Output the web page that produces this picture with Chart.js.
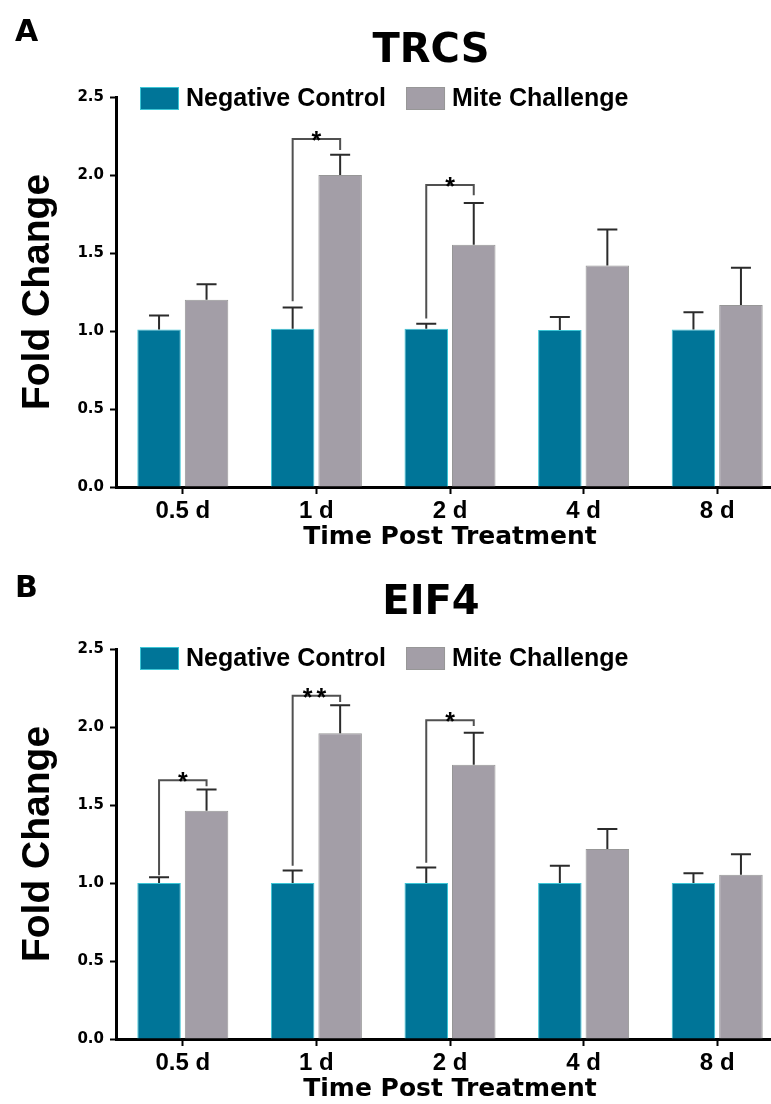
<!DOCTYPE html>
<html>
<head>
<meta charset="utf-8">
<script src="https://cdn.jsdelivr.net/npm/chart.js@4.4.1/dist/chart.umd.min.js"></script>
<style>
  html, body { margin: 0; padding: 0; background: #fff; overflow: hidden; }
  #wrap { width: 771px; height: 1104px; overflow: hidden; }
  canvas { display: block; }
</style>
</head>
<body>
<div id="wrap">
  <canvas id="chartA" width="790" height="552"></canvas>
  <canvas id="chartB" width="790" height="552"></canvas>
</div>
<script>
var timePoints = ['0.5 d', '1 d', '2 d', '4 d', '8 d'];
var yTickLabels = ['0.0', '0.5', '1.0', '1.5', '2.0', '2.5'];
var seriesNames = ['Negative Control', 'Mite Challenge'];

// TRCS
var trcsControl = [1.01, 1.015, 1.015, 1.006, 1.01];
var trcsControlErr = [0.09, 0.135, 0.032, 0.084, 0.11];
var trcsMite = [1.20, 2.00, 1.553, 1.42, 1.167];
var trcsMiteErr = [0.10, 0.13, 0.267, 0.23, 0.238];
// significance brackets: group, label, top, left end, right end
var trcsBrackets = [[1, '*', 2.23, 1.19, 2.16], [2, '*', 1.936, 1.08, 1.87]];

// EIF4
var eifControl = [1.0, 1.0, 1.0, 1.0, 1.0];
var eifControlErr = [0.037, 0.08, 0.10, 0.11, 0.062];
var eifMite = [1.463, 1.96, 1.758, 1.218, 1.053];
var eifMiteErr = [0.137, 0.18, 0.205, 0.128, 0.131];
var eifBrackets = [[0, '*', 1.658, 1.05, 1.62], [1, '**', 2.2, 1.11, 2.16], [2, '*', 2.043, 1.13, 2.006]];

var teal = '#007598';
var tealEdge = '#3cc6d6';
var grey = '#a39ea7';
var greyEdge = '#979797';

Chart.defaults.font.family = '"Liberation Sans", Arial, sans-serif';
Chart.defaults.color = '#000';

var annotate = {
  id: 'annotate',
  afterDraw: function (chart) {
    var o = chart.options.plugins.annotate;
    var ctx = chart.ctx;
    var y = chart.scales.y;
    ctx.save();
    ctx.fillStyle = '#000';
    ctx.textBaseline = 'alphabetic';
    ctx.textAlign = 'left';
    ctx.font = 'bold 30px "DejaVu Sans"';
    ctx.fillText(o.panel, 15, o.panelY);
    ctx.textAlign = 'center';
    ctx.font = 'bold 40px "DejaVu Sans"';
    ctx.fillText(o.title, 431, 62);

    // legend
    ctx.font = 'bold 25px "Liberation Sans"';
    ctx.textAlign = 'left';
    ctx.textBaseline = 'middle';
    var lx = 140;
    chart.data.datasets.forEach(function (ds) {
      ctx.fillStyle = ds.backgroundColor;
      ctx.fillRect(lx, o.legendY, 39, 23);
      ctx.strokeStyle = ds.borderColor;
      ctx.lineWidth = 1;
      ctx.strokeRect(lx + 0.5, o.legendY + 0.5, 38, 22);
      ctx.fillStyle = '#000';
      ctx.fillText(ds.label, lx + 46, o.legendY + 12);
      lx += 46 + ctx.measureText(ds.label).width + 20;
    });

    // error bars
    ctx.strokeStyle = '#2b2b2b';
    ctx.lineWidth = 2;
    chart.data.datasets.forEach(function (ds, di) {
      var meta = chart.getDatasetMeta(di);
      meta.data.forEach(function (bar, i) {
        var top = y.getPixelForValue(ds.data[i] + ds.errors[i]);
        ctx.beginPath();
        ctx.moveTo(bar.x, bar.y);
        ctx.lineTo(bar.x, top);
        ctx.moveTo(bar.x - 10, top);
        ctx.lineTo(bar.x + 10, top);
        ctx.stroke();
      });
    });

    // brackets
    var m0 = chart.getDatasetMeta(0), m1 = chart.getDatasetMeta(1);
    ctx.strokeStyle = '#505050';
    ctx.lineWidth = 2;
    ctx.font = 'bold 25px "Liberation Sans"';
    ctx.textAlign = 'center';
    ctx.textBaseline = 'alphabetic';
    ctx.fillStyle = '#000';
    o.brackets.forEach(function (b) {
      var x1 = m0.data[b[0]].x, x2 = m1.data[b[0]].x;
      var yt = y.getPixelForValue(b[2]);
      ctx.beginPath();
      ctx.moveTo(x1, y.getPixelForValue(b[3]));
      ctx.lineTo(x1, yt);
      ctx.lineTo(x2, yt);
      ctx.lineTo(x2, y.getPixelForValue(b[4]));
      ctx.stroke();
      ctx.letterSpacing = b[1].length > 1 ? '4px' : '0px';
      ctx.fillText(b[1], (x1 + x2) / 2, yt + 10);
    });
    ctx.restore();
  }
};

function makeChart(id, panel, title, ctrl, ctrlErr, mite, miteErr, brackets, panelY, legendY) {
  return new Chart(document.getElementById(id), {
    type: 'bar',
    data: {
      labels: timePoints,
      datasets: [
        { label: seriesNames[0], data: ctrl, errors: ctrlErr, backgroundColor: teal, borderColor: tealEdge, borderWidth: 1 },
        { label: seriesNames[1], data: mite, errors: miteErr, backgroundColor: grey, borderColor: greyEdge, borderWidth: 1 }
      ]
    },
    options: {
      responsive: false,
      animation: false,
      layout: { padding: { top: 97, right: 6, bottom: 0, left: 0 } },
      datasets: { bar: { categoryPercentage: 0.711, barPercentage: 0.916 } },
      plugins: {
        legend: { display: false },
        tooltip: { enabled: false },
        annotate: { panel: panel, title: title, brackets: brackets, panelY: panelY, legendY: legendY }
      },
      scales: {
        x: {
          offset: true,
          grid: { offset: false, drawOnChartArea: false, drawTicks: true, tickLength: 7, tickWidth: 2, tickColor: '#000' },
          border: { display: true, color: '#000', width: 3 },
          ticks: { color: '#000', font: { size: 24, weight: 'bold' }, padding: 3 },
          title: { display: true, text: 'Time Post Treatment', color: '#000', font: { family: '"DejaVu Sans"', size: 25, weight: 'bold', lineHeight: 1 }, padding: { top: 0, bottom: 2 } },
          afterFit: function (s) { s.height = 65; }
        },
        y: {
          min: 0,
          max: 2.5,
          grid: { drawOnChartArea: false, drawTicks: true, tickLength: 6, tickWidth: 2, tickColor: '#000' },
          border: { display: true, color: '#000', width: 3 },
          ticks: {
            stepSize: 0.5,
            color: '#000',
            padding: 6,
            font: { family: '"DejaVu Sans"', size: 15, weight: 'bold' },
            callback: function (v, i) { return yTickLabels[i]; }
          },
          title: { display: true, text: 'Fold Change', color: '#000', font: { size: 39, weight: 'bold', lineHeight: 1 }, padding: { top: 19, bottom: 0 } },
          afterFit: function (s) { s.width = 116; }
        }
      }
    },
    plugins: [annotate]
  });
}

makeChart('chartA', 'A', 'TRCS', trcsControl, trcsControlErr, trcsMite, trcsMiteErr, trcsBrackets, 41, 87);
makeChart('chartB', 'B', 'EIF4', eifControl, eifControlErr, eifMite, eifMiteErr, eifBrackets, 45, 95);
</script>
</body>
</html>
